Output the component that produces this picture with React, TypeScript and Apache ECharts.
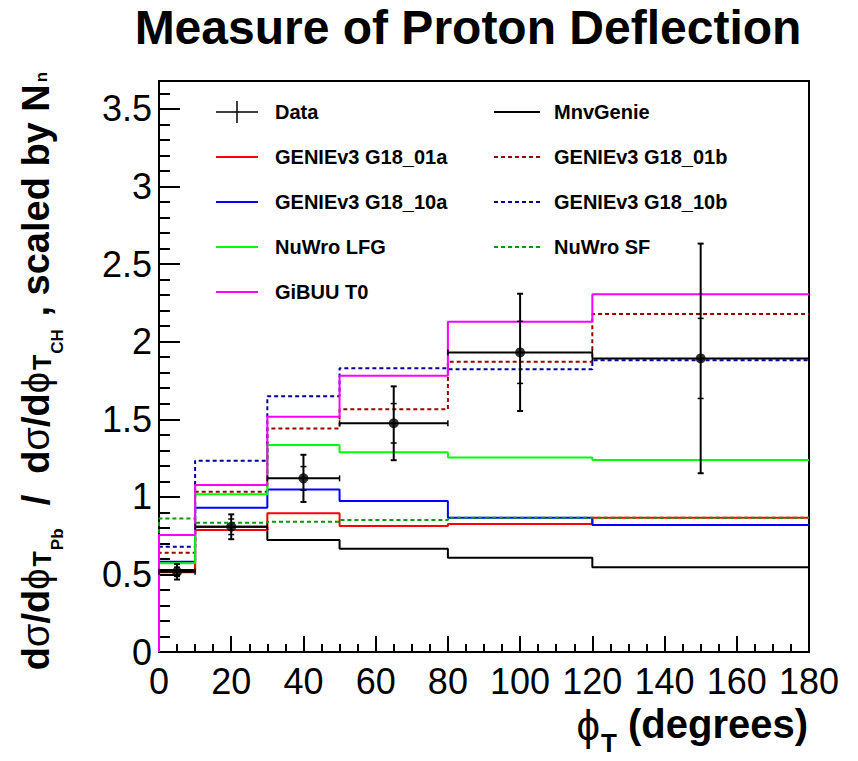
import React, { useEffect, useRef } from 'react';
import * as echarts from 'echarts';

const FONT = '"Liberation Sans", Arial, Helvetica, sans-serif';

// bin edges of phi_T (degrees)
const binEdges = [0, 10, 30, 50, 80, 120, 180];
const binCenters = [5, 20, 40, 65, 100, 150];

// measured ratio with errors
const dataValues = [0.517, 0.807, 1.119, 1.474, 1.931, 1.892];
const dataTotalErr = [0.05, 0.08, 0.152, 0.238, 0.378, 0.74];
const dataStatErr = [0.03, 0.05, 0.076, 0.127, 0.2, 0.258];

// model predictions per bin
const mnvGenie = [0.528, 0.807, 0.722, 0.666, 0.608, 0.546];
const g18_01a = [0.514, 0.786, 0.894, 0.812, 0.825, 0.865];
const g18_01b = [0.64, 1.033, 1.441, 1.564, 1.871, 2.178];
const g18_10a = [0.582, 0.93, 1.048, 0.973, 0.865, 0.818];
const g18_10b = [0.678, 1.233, 1.649, 1.828, 1.823, 1.881];
const nuwroLFG = [0.572, 1.016, 1.334, 1.287, 1.254, 1.237];
const nuwroSF = [0.861, 0.833, 0.84, 0.85, 0.865, 0.865];
const gibuuT0 = [0.754, 1.076, 1.516, 1.78, 2.128, 2.305];

const models = [
  { name: 'MnvGenie', values: mnvGenie, color: '#000000', dashed: false, col: 1, row: 0 },
  { name: 'GENIEv3 G18_01a', values: g18_01a, color: '#ff0000', dashed: false, col: 0, row: 1 },
  { name: 'GENIEv3 G18_01b', values: g18_01b, color: '#990000', dashed: true, col: 1, row: 1 },
  { name: 'GENIEv3 G18_10a', values: g18_10a, color: '#0000ff', dashed: false, col: 0, row: 2 },
  { name: 'GENIEv3 G18_10b', values: g18_10b, color: '#000099', dashed: true, col: 1, row: 2 },
  { name: 'NuWro LFG', values: nuwroLFG, color: '#00ff00', dashed: false, col: 0, row: 3 },
  { name: 'NuWro SF', values: nuwroSF, color: '#009900', dashed: true, col: 1, row: 3 },
  { name: 'GiBUU T0', values: gibuuT0, color: '#ff00ff', dashed: false, col: 0, row: 4 },
];

const DASH = [4, 3];

function stepPoints(vals: number[]) {
  const pts: number[][] = [[binEdges[0], 0]];
  vals.forEach((v, i) => {
    pts.push([binEdges[i], v]);
    pts.push([binEdges[i + 1], v]);
  });
  return pts;
}

export default function App() {
  const ref = useRef<HTMLDivElement>(null);

  useEffect(() => {
    const chart = echarts.init(ref.current!, null, { renderer: 'svg' });

    const lineSeries = models.map((m) => ({
      name: m.name,
      type: 'line',
      data: stepPoints(m.values),
      symbol: 'none',
      silent: true,
      lineStyle: { color: m.color, width: 2, type: m.dashed ? DASH : 'solid' },
      z: 3,
    }));

    const errData = dataValues.map((v, i) => [
      binCenters[i], v, binEdges[i], binEdges[i + 1], dataTotalErr[i], dataStatErr[i],
    ]);

    const errorSeries = {
      name: 'Data errors',
      type: 'custom',
      silent: true,
      z: 5,
      encode: { x: 0, y: 1 },
      data: errData,
      renderItem: (params: any, api: any) => {
        const xc = api.value(0), y = api.value(1), xl = api.value(2), xh = api.value(3);
        const te = api.value(4), se = api.value(5);
        const pl = api.coord([xl, y]);
        const ph = api.coord([xh, y]);
        const pt = api.coord([xc, y + te]);
        const pb = api.coord([xc, y - te]);
        const pst = api.coord([xc, y + se]);
        const psb = api.coord([xc, y - se]);
        const st = { stroke: '#000', lineWidth: 2 };
        const st2 = { stroke: '#000', lineWidth: 1.5 };
        const c = 3;
        const ln = (x1: number, y1: number, x2: number, y2: number, s: any) => ({
          type: 'line', shape: { x1, y1, x2, y2 }, style: s,
        });
        return {
          type: 'group',
          children: [
            ln(pl[0], pl[1], ph[0], ph[1], st),
            ln(pt[0], pt[1], pb[0], pb[1], st),
            ln(pt[0] - c, pt[1], pt[0] + c, pt[1], st),
            ln(pb[0] - c, pb[1], pb[0] + c, pb[1], st),
            ln(pst[0] - c, pst[1], pst[0] + c, pst[1], st2),
            ln(psb[0] - c, psb[1], psb[0] + c, psb[1], st2),
            ln(pl[0], pl[1] - c, pl[0], pl[1] + c, st2),
            ln(ph[0], ph[1] - c, ph[0], ph[1] + c, st2),
          ],
        };
      },
    };

    const markerSeries = {
      name: 'Data',
      type: 'scatter',
      silent: true,
      z: 6,
      symbol: 'circle',
      symbolSize: 10,
      itemStyle: { color: '#000' },
      data: dataValues.map((v, i) => [binCenters[i], v]),
    };

    // legend drawn as graphic
    const rowY = (r: number) => 112 + 45 * r;
    const colLine = [[216, 258], [494, 540]];
    const colText = [275, 554];
    const legendEls: any[] = [];
    const legendFont = { fontFamily: FONT, fontWeight: 'bold', fontSize: 20, fill: '#000', verticalAlign: 'middle', align: 'left' };
    legendEls.push({ type: 'line', shape: { x1: colLine[0][0], y1: rowY(0), x2: colLine[0][1], y2: rowY(0) }, style: { stroke: '#000', lineWidth: 1.5 } });
    legendEls.push({ type: 'line', shape: { x1: (colLine[0][0] + colLine[0][1]) / 2, y1: rowY(0) - 11, x2: (colLine[0][0] + colLine[0][1]) / 2, y2: rowY(0) + 11 }, style: { stroke: '#000', lineWidth: 1.5 } });
    legendEls.push({ type: 'text', x: colText[0], y: rowY(0), style: { ...legendFont, text: 'Data' } });
    models.forEach((m) => {
      const y = rowY(m.row);
      legendEls.push({
        type: 'line',
        shape: { x1: colLine[m.col][0], y1: y, x2: colLine[m.col][1], y2: y },
        style: { stroke: m.color, lineWidth: 2, lineDash: m.dashed ? DASH : null },
      });
      legendEls.push({ type: 'text', x: colText[m.col], y, style: { ...legendFont, text: m.name } });
    });

    const yTitle = {
      type: 'text',
      x: 17,
      y: 371,
      rotation: Math.PI / 2,
      style: {
        text: '{m|d}{g|σ}{m|/d}{g|ϕ}{t|T}{s|Pb}{m|  /  d}{g|σ}{m|/d}{g|ϕ}{t|T}{s|CH}{m| , scaled by N}{n|n}',
        align: 'center',
        verticalAlign: 'top',
        fill: '#000',
        fontFamily: FONT,
        rich: {
          m: { fontFamily: FONT, fontSize: 38, fontWeight: 'bold', lineHeight: 40, verticalAlign: 'top', fill: '#000' },
          g: { fontFamily: FONT, fontSize: 38, fontWeight: 'normal', lineHeight: 40, verticalAlign: 'top', fill: '#000' },
          t: { fontFamily: FONT, fontSize: 25, fontWeight: 'bold', lineHeight: 25, verticalAlign: 'top', padding: [12, 1, 0, 2], fill: '#000' },
          s: { fontFamily: FONT, fontSize: 17, fontWeight: 'bold', lineHeight: 17, verticalAlign: 'top', padding: [32, 2, 0, 0], fill: '#000' },
          n: { fontFamily: FONT, fontSize: 17, fontWeight: 'bold', lineHeight: 17, verticalAlign: 'top', padding: [16, 0, 0, 2], fill: '#000' },
        },
      },
    };

    const xTitle = {
      type: 'text',
      x: 808,
      y: 704,
      style: {
        text: '{g|ϕ}{t|T}{m| (degrees)}',
        align: 'right',
        verticalAlign: 'top',
        fill: '#000',
        fontFamily: FONT,
        rich: {
          m: { fontFamily: FONT, fontSize: 40, fontWeight: 'bold', lineHeight: 44, verticalAlign: 'top', fill: '#000' },
          g: { fontFamily: FONT, fontSize: 42, fontWeight: 'normal', lineHeight: 44, verticalAlign: 'top', fill: '#000' },
          t: { fontFamily: FONT, fontSize: 26, fontWeight: 'bold', lineHeight: 26, verticalAlign: 'top', padding: [26, 0, 0, 1], fill: '#000' },
        },
      },
    };

    const title = {
      type: 'text',
      x: 468,
      y: 27,
      style: {
        text: 'Measure of Proton Deflection',
        align: 'center',
        verticalAlign: 'middle',
        fontFamily: FONT,
        fontWeight: 'bold',
        fontSize: 48,
        fill: '#000',
      },
    };

    const option: any = {
      animation: false,
      backgroundColor: '#fff',
      grid: { left: 159, right: 49, top: 81, bottom: 109, show: true, borderColor: '#000', borderWidth: 2, backgroundColor: 'transparent' },
      xAxis: {
        type: 'value',
        min: 0,
        max: 180,
        interval: 20,
        axisLine: { show: true, onZero: false, lineStyle: { color: '#000', width: 2 } },
        axisTick: { show: true, inside: true, length: 16, lineStyle: { color: '#000', width: 2 } },
        minorTick: { show: true, splitNumber: 4, length: 8, lineStyle: { color: '#000', width: 2 } },
        splitLine: { show: false },
        axisLabel: { color: '#000', fontSize: 36, fontFamily: FONT, margin: 11 },
      },
      yAxis: {
        type: 'value',
        min: 0,
        max: 3.68,
        interval: 0.5,
        axisLine: { show: true, onZero: false, lineStyle: { color: '#000', width: 2 } },
        axisTick: { show: true, inside: true, length: 21, lineStyle: { color: '#000', width: 2 } },
        minorTick: { show: true, splitNumber: 5, length: 11, lineStyle: { color: '#000', width: 2 } },
        splitLine: { show: false },
        axisLabel: { color: '#000', fontSize: 36, fontFamily: FONT, margin: 7, showMaxLabel: false },
      },
      series: [...lineSeries, errorSeries, markerSeries],
      graphic: [title, yTitle, xTitle, ...legendEls],
    };

    chart.setOption(option);
    return () => chart.dispose();
  }, []);

  return (
    <div
      ref={ref}
      style={{ position: 'absolute', left: 0, top: 0, width: 858, height: 761, background: '#fff' }}
    />
  );
}
